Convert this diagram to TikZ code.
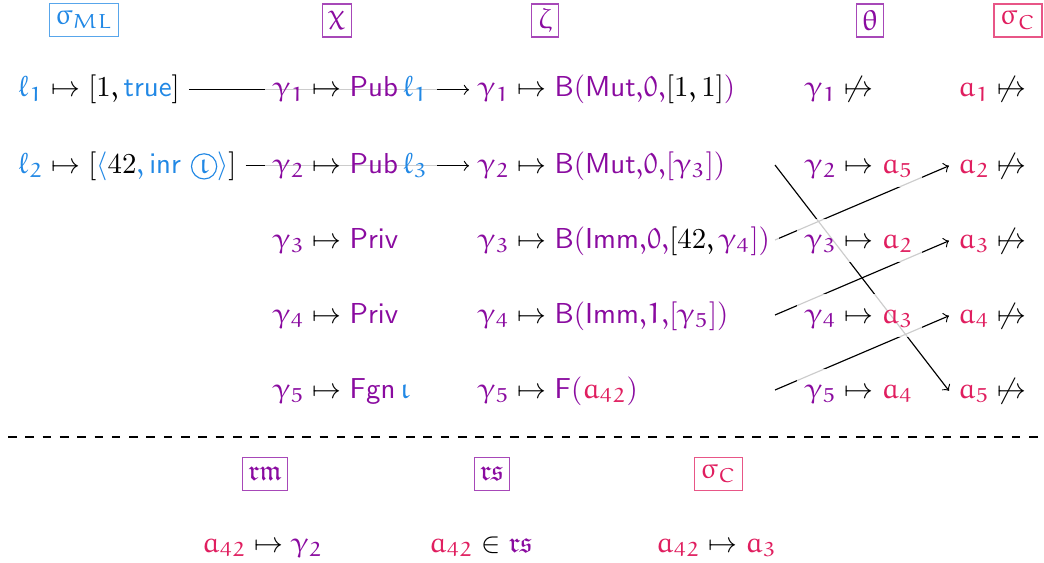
\documentclass[tikz,border=0pt]{standalone}
\usepackage{amsmath,amssymb}
\DeclareSymbolFont{letters}{U}{eur}{m}{n}
\SetSymbolFont{letters}{bold}{U}{eur}{b}{n}
\DeclareMathSymbol{0}{\mathalpha}{letters}{"30}
\DeclareMathSymbol{1}{\mathalpha}{letters}{"31}
\DeclareMathSymbol{2}{\mathalpha}{letters}{"32}
\DeclareMathSymbol{3}{\mathalpha}{letters}{"33}
\DeclareMathSymbol{4}{\mathalpha}{letters}{"34}
\DeclareMathSymbol{5}{\mathalpha}{letters}{"35}
\usetikzlibrary{backgrounds}
\definecolor{mlblue}{HTML}{2188E5}
\definecolor{ipurple}{HTML}{8A0BA0}
\definecolor{cpink}{HTML}{E01E5F}
\newcommand{\mlc}[1]{{\color{mlblue}#1}}
\newcommand{\ic}[1]{{\color{ipurple}#1}}
\newcommand{\cc}[1]{{\color{cpink}#1}}
\newcommand{\cmnum}[1]{\textrm{#1}}
\newcommand{\circiota}{\tikz[baseline=(ci.base)]\node[circle,draw=mlblue,line width=0.4pt,inner sep=1.1pt,text=mlblue](ci){$\iota$};}
\begin{document}
\begin{tikzpicture}[x=0.3467pt,y=-0.3467pt,
  entry/.style={anchor=base west,inner sep=3pt,text height=7pt,text depth=2pt,fill=white,fill opacity=0.8,text opacity=1},
  hdr/.style={draw=#1!75,text=#1,inner xsep=2pt,inner ysep=0pt,minimum height=11.4pt,line width=0.4pt},
  conn/.style={->,line width=0.4pt}]
\useasboundingbox (0,0) rectangle (1044,563);
% headers
\node[hdr=mlblue] (hml) at (84,20) {$\sigma_{ML}$};
\node[hdr=ipurple] (hchi) at (337,20.5) {$\chi$};
\node[hdr=ipurple] (hzeta) at (545,20.5) {$\zeta$};
\node[hdr=ipurple] (htheta) at (870,20.5) {$\theta$};
\node[hdr=cpink] (hsc) at (1018,20.5) {$\sigma_C$};
% column sigma_ML
\node[entry] (m1) at (9,97) {$\mlc{\ell_1}\mapsto[\cmnum{1},\mlc{\mathsf{true}}]$};
\node[entry] (m2) at (9,173) {$\mlc{\ell_2}\mapsto[\mlc{\langle}\cmnum{42}\mlc{,\mathsf{inr}}\ \circiota\mlc{\rangle}]$};
% column chi
\node[entry] (x1) at (264,97) {$\ic{\gamma_1}\mapsto\ic{\mathsf{Pub}}\,\mlc{\ell_1}$};
\node[entry] (x2) at (264,173) {$\ic{\gamma_2}\mapsto\ic{\mathsf{Pub}}\,\mlc{\ell_3}$};
\node[entry] (x3) at (264,248) {$\ic{\gamma_3}\mapsto\ic{\mathsf{Priv}}$};
\node[entry] (x4) at (264,323) {$\ic{\gamma_4}\mapsto\ic{\mathsf{Priv}}$};
\node[entry] (x5) at (264,398) {$\ic{\gamma_5}\mapsto\ic{\mathsf{Fgn}}\,\mlc{\iota}$};
% column zeta
\node[entry] (z1) at (469,97) {$\ic{\gamma_1}\mapsto\ic{\mathsf{B}(\mathsf{Mut}{,}0{,}}[\cmnum{1},\cmnum{1}]\ic{)}$};
\node[entry] (z2) at (469,173) {$\ic{\gamma_2}\mapsto\ic{\mathsf{B}(\mathsf{Mut}{,}0{,}[\gamma_3])}$};
\node[entry] (z3) at (469,248) {$\ic{\gamma_3}\mapsto\ic{\mathsf{B}(\mathsf{Imm}{,}0{,}}[\cmnum{42},\ic{\gamma_4])}$};
\node[entry] (z4) at (469,323) {$\ic{\gamma_4}\mapsto\ic{\mathsf{B}(\mathsf{Imm}{,}1{,}[\gamma_5])}$};
\node[entry] (z5) at (469,398) {$\ic{\gamma_5}\mapsto\ic{\mathsf{F}(}\cc{a_{42}}\ic{)}$};
% column theta
\node[entry] (t1) at (796,97) {$\ic{\gamma_1}\not\mapsto$};
\node[entry] (t2) at (796,173) {$\ic{\gamma_2}\mapsto\cc{a_5}$};
\node[entry] (t3) at (796,248) {$\ic{\gamma_3}\mapsto\cc{a_2}$};
\node[entry] (t4) at (796,323) {$\ic{\gamma_4}\mapsto\cc{a_3}$};
\node[entry] (t5) at (796,398) {$\ic{\gamma_5}\mapsto\cc{a_4}$};
% column sigma_C
\node[entry] (c1) at (949,97) {$\cc{a_1}\not\mapsto$};
\node[entry] (c2) at (949,173) {$\cc{a_2}\not\mapsto$};
\node[entry] (c3) at (949,248) {$\cc{a_3}\not\mapsto$};
\node[entry] (c4) at (949,323) {$\cc{a_4}\not\mapsto$};
\node[entry] (c5) at (949,398) {$\cc{a_5}\not\mapsto$};
% start points of theta arrows
\coordinate (s2) at (775,165);
\coordinate (s3) at (775,240);
\coordinate (s4) at (775,315);
\coordinate (s5) at (775,390);
% separator
\coordinate (d1) at (8,437);
\coordinate (d2) at (1040,437);
\draw[dashed,line width=0.4pt] (d1) -- (d2);
% bottom
\node[hdr=ipurple] (hrm) at (265,474) {$\mathfrak{rm}$};
\node[hdr=ipurple] (hrs) at (492,474) {$\mathfrak{rs}$};
\node[hdr=cpink] (hsc2) at (718.5,474) {$\sigma_C$};
\node[entry] (b1) at (193,552) {$\cc{a_{42}}\mapsto\ic{\gamma_2}$};
\node[entry] (b2) at (420,552) {$\cc{a_{42}}\in\ic{\mathfrak{rs}}$};
\node[entry] (b3) at (647,552) {$\cc{a_{42}}\mapsto\cc{a_3}$};
% connectors
\begin{pgfonlayer}{background}
\draw[conn] (m1.east) -- (z1.west);
\draw[conn] (m2.east) -- (z2.west);
\draw[conn] (s2) -- (c5.west);
\draw[conn] (s3) -- (c2.west);
\draw[conn] (s4) -- (c3.west);
\draw[conn] (s5) -- (c4.west);
\end{pgfonlayer}
\end{tikzpicture}
\end{document}
